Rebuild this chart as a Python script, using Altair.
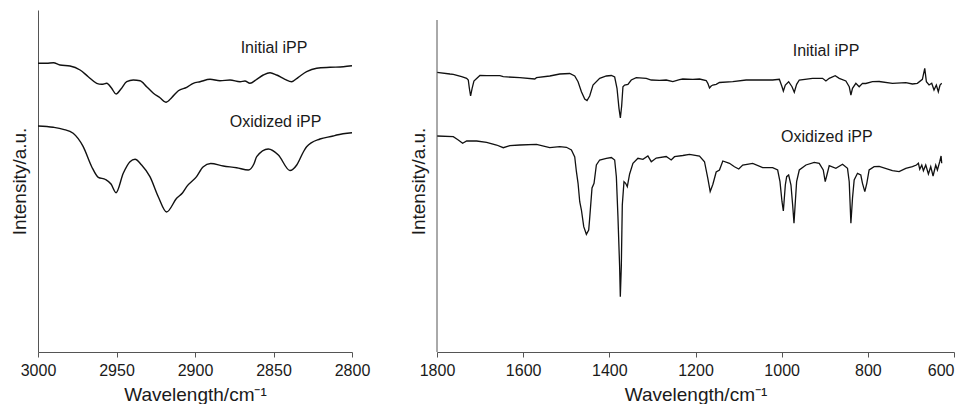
import altair as alt
import pandas as pd

# ---------------- data ----------------
# Left panel: 3000-2800 cm-1
left_init_wn = [3000, 2994.5, 2990.2, 2986, 2979.6, 2973.2, 2968, 2962.6, 2959.4, 2956.2, 2953.1,
                2950.3, 2947.3, 2943.5, 2939.3, 2935, 2930.8, 2926.5, 2922.3, 2918.5, 2914.9,
                2910.6, 2905.3, 2901.1, 2896.8, 2890.4, 2884.1, 2877.7, 2871.3, 2868.2, 2865,
                2860.7, 2856.5, 2852.2, 2848, 2842.7, 2838.4, 2834.2, 2828.9, 2822.5, 2814,
                2805.5, 2800]
left_init_int = [288.7, 288.7, 289.3, 287, 286, 282, 275.3, 268.7, 267.7, 268.7, 263.7,
                 258, 262.7, 270.3, 272, 271.3, 265.3, 258.7, 254.3, 249.7, 254.3,
                 261.3, 264.7, 268.7, 270.3, 272.7, 271.3, 272, 270.3, 271, 268.7,
                 272.7, 277, 279.3, 277, 272.7, 270.3, 274.7, 280.3, 283.7, 284.7,
                 285.3, 286.3]

left_ox_wn = [3000, 2990.3, 2983.9, 2977.6, 2971.2, 2965.8, 2961.6, 2957, 2953.5, 2950.3,
              2945.7, 2941.4, 2938.2, 2934, 2928.7, 2923.4, 2918.1, 2911.7, 2908, 2905.3,
              2899, 2894.9, 2890, 2882, 2873.5, 2866, 2862.5, 2860.7, 2853.3, 2846.9,
              2839.5, 2835.2, 2831, 2828.9, 2820.4, 2812, 2809.8, 2800]
left_ox_int = [226, 224.7, 222.7, 218.7, 205.3, 185.3, 174.7, 172.5, 168, 159.3,
               178.7, 190.3, 192.7, 187, 175.3, 155.3, 140, 153.7, 159, 165.3,
               175.3, 185, 188.5, 186, 184.3, 182, 188, 195.3, 203, 197,
               181.5, 187, 200, 205.3, 213, 216, 217, 219.3]

# Right panel: 1800-600 cm-1
right_init_wn = [1800, 1769.9, 1762.2, 1742.8, 1731.2, 1727.4, 1725, 1722, 1718.5, 1714.3, 1708,
                 1700.4, 1684.9, 1654, 1646.2, 1607.7, 1573, 1569.1, 1538.2, 1515, 1491.9,
                 1480.3, 1472.6, 1464.8, 1457.1, 1451.8, 1445.6, 1437.9, 1422.4, 1406.9, 1395.3,
                 1387.6, 1382.2, 1377.6, 1374.4, 1371.4, 1368.4, 1364.5, 1356.8, 1349.1, 1337.5,
                 1314.3, 1302.7, 1283.4, 1268, 1252.6, 1237.1, 1229.4, 1206.2, 1190.7, 1175.2,
                 1171.4, 1167.5, 1163.6, 1159.8, 1152, 1144.4, 1113.5, 1082.5, 1051.7, 1020.9,
                 1005.4, 999.2, 996.1, 991.5, 983.8, 976, 970.7, 965.3, 959.1, 928.3,
                 905.1, 897.3, 889.6, 875.7, 866.4, 851, 843.2, 839.3, 835.6, 827.8,
                 820.1, 812.4, 804.7, 789.2, 773.7, 742.9, 711.9, 696.5, 685, 673.4,
                 667.9, 664.1, 657.9, 651.7, 646.4, 641, 636.4, 632.4, 628.5]
right_init_int = [279.7, 278, 277.7, 275.3, 273.7, 272, 264, 256, 263.7, 271, 273.5,
                  276.5, 276.3, 276.3, 275.3, 274.3, 273, 274.3, 276, 278, 278.5,
                  276, 270.3, 260.3, 253, 251.5, 256, 267, 273.7, 276, 276.5,
                  275, 263.7, 243.7, 234, 246, 265.3, 267, 267.5, 272, 274.3,
                  273.7, 272, 271.7, 272, 270.3, 272.3, 273, 272.7, 273, 271.5,
                  268.7, 264, 266, 267, 267.7, 269.5, 270.3, 272, 272, 272,
                  272.7, 265.3, 261, 267, 270.3, 265.3, 259.7, 267.7, 272, 273.7,
                  273.7, 271, 273.7, 276.3, 273.7, 271, 265.3, 257, 263.7, 268.7,
                  265.3, 268.7, 268.5, 270.3, 270.5, 268.7, 269.3, 268, 268.7, 272.7,
                  283.7, 270.3, 267, 268.7, 262, 267, 260.3, 267, 268.7]

right_ox_wn = [1800, 1762.2, 1750.6, 1740.5, 1731.2, 1708, 1684.9, 1661.7, 1646.2, 1630.9,
               1607.7, 1569.1, 1538.2, 1515, 1499.6, 1488, 1480.3, 1476.4, 1472.6, 1468.7,
               1464.8, 1459.4, 1453.3, 1447.9, 1445.6, 1440.2, 1435.5, 1430.1, 1422.4, 1406.9,
               1395.3, 1387.6, 1383.7, 1380, 1376.1, 1374.5, 1372.2, 1369.9, 1366, 1362.2,
               1358.3, 1352.9, 1345.2, 1333.6, 1322, 1310.5, 1302.7, 1291.1, 1268, 1256.4,
               1248.7, 1229.4, 1213.9, 1190.7, 1179.1, 1171.4, 1165.9, 1159.8, 1152, 1144.4,
               1136.6, 1121.2, 1109.6, 1099.6, 1090.4, 1067.2, 1044.1, 1020.9, 1009.3, 1003.9,
               999.2, 996.1, 991.5, 988.4, 983.8, 978.4, 974.5, 971.4, 968.3, 965.3,
               959.1, 943.6, 924.3, 912.8, 903.5, 898.9, 895, 889.6, 874.2, 858.7,
               847.2, 843.2, 839.3, 835.6, 831.7, 824, 816.3, 812.4, 807, 802.4,
               797, 785.4, 773.7, 742.9, 727.4, 711.9, 696.5, 687.2, 682.6, 679.5,
               674.8, 671, 665.6, 659.4, 654, 648.6, 642.4, 638.5, 633.1, 630, 628.5]
right_ox_int = [216, 215.3, 212, 208.7, 211, 211, 209.7, 207, 204.3, 206.3,
                207, 207.7, 204.3, 205.3, 204.7, 202, 195, 180.3, 168.7, 150.3,
                142, 125.3, 117.7, 122, 133.7, 164, 168.7, 187, 192, 193.7,
                194.5, 192, 175.3, 135.3, 85.3, 55.3, 85.3, 147, 170.3, 168.7,
                165.3, 178, 188.7, 193.7, 192.7, 196, 190.3, 194, 195.5, 192,
                195.3, 196.5, 197.7, 196, 190.3, 173.7, 160.5, 167.5, 180, 182,
                191, 188.7, 185.3, 183, 187, 188.7, 184.3, 184.3, 182, 170.3,
                150.3, 141, 167, 175.3, 177, 167, 147, 128.7, 150.3, 170.3,
                182, 187, 189.7, 188.7, 182, 170.3, 177, 186.3, 183.7, 187.7,
                183.7, 170.3, 128.7, 153.7, 172, 178.7, 177, 168.7, 160.3, 168.7,
                182, 185.3, 185.5, 181.3, 180.3, 183.7, 185.3, 187, 188.7, 182.7,
                187, 181.3, 187, 178, 185.3, 176, 187, 182, 190.3, 196, 188.7]

# Curve labels
left_labels = ["Initial iPP", "Oxidized iPP"]
left_label_wn = [2849.7, 2848.7]
left_label_int = [304, 230]
right_labels = ["Initial iPP", "Oxidized iPP"]
right_label_wn = [897, 895]
right_label_int = [301, 215]

left_ticks = [3000, 2975, 2950, 2925, 2900, 2875, 2850, 2825, 2800]
right_ticks = [1800, 1600, 1400, 1200, 1000, 800, 600]

y_top = 342          # intensity range shown (a.u.)
right_axis_top = 332  # right panel's y-axis line is shorter

FONT = "Liberation Sans"
AXIS_COLOR = "#555555"
TEXT_COLOR = "#1a1a1a"

# ---------------- frames ----------------
df_left = pd.concat([
    pd.DataFrame({"wn": left_init_wn, "int": left_init_int, "s": "Initial iPP"}),
    pd.DataFrame({"wn": left_ox_wn, "int": left_ox_int, "s": "Oxidized iPP"}),
])
df_right = pd.concat([
    pd.DataFrame({"wn": right_init_wn, "int": right_init_int, "s": "Initial iPP"}),
    pd.DataFrame({"wn": right_ox_wn, "int": right_ox_int, "s": "Oxidized iPP"}),
])
df_lab_left = pd.DataFrame({"wn": left_label_wn, "int": left_label_int, "t": left_labels})
df_lab_right = pd.DataFrame({"wn": right_label_wn, "int": right_label_int, "t": right_labels})
df_rule = pd.DataFrame({"wn": [max(right_ticks)], "y0": [0], "y1": [right_axis_top]})

X_TITLE = "Wavelength/cm⁻¹"
Y_TITLE = "Intensity/a.u."


def x_axis(values, minor_step=None, end_value=None):
    expr = "datum.label"
    if minor_step:
        expr = f"datum.value % {minor_step} === 0 ? datum.label : ''"
    align = "center"
    if end_value is not None:
        # keep the last label inside the page
        align = {"condition": {"test": f"datum.value === {end_value}", "value": "right"},
                 "value": "center"}
    return alt.Axis(values=values, format="d", labelExpr=expr, title=X_TITLE,
                    grid=False, labelFlush=False, labelOverlap=False, labelAlign=align,
                    tickSize=5, tickColor=AXIS_COLOR, domainColor=AXIS_COLOR,
                    labelFont=FONT, labelFontSize=16, labelColor=TEXT_COLOR,
                    titleFont=FONT, titleFontSize=19, titleFontWeight="normal",
                    titleColor=TEXT_COLOR, labelPadding=5, titlePadding=7)


def y_axis(show_domain=True):
    return alt.Axis(title=Y_TITLE, labels=False, ticks=False, grid=False,
                    domain=show_domain, domainColor=AXIS_COLOR,
                    titleFont=FONT, titleFontSize=19, titleFontWeight="normal",
                    titleColor=TEXT_COLOR, titlePadding=9)


y_scale = alt.Scale(domain=[0, y_top], nice=False, zero=True)

# ---------------- left panel ----------------
xl = alt.Scale(domain=[2800, 3000], reverse=True, nice=False, zero=False)
left_lines = alt.Chart(df_left).mark_line(color="#111", strokeWidth=1.4, interpolate="monotone").encode(
    x=alt.X("wn:Q", scale=xl, axis=x_axis(left_ticks, 50)),
    y=alt.Y("int:Q", scale=y_scale, axis=y_axis(True)),
    detail="s:N",
)
left_text = alt.Chart(df_lab_left).mark_text(font=FONT, fontSize=16, color=TEXT_COLOR).encode(
    x=alt.X("wn:Q", scale=xl), y=alt.Y("int:Q", scale=y_scale), text="t:N")
left = alt.layer(left_lines, left_text).properties(width=314, height=342)

# ---------------- right panel ----------------
xr = alt.Scale(domain=[600, 1800], reverse=True, nice=False, zero=False)
right_lines = alt.Chart(df_right).mark_line(color="#111", strokeWidth=1.3).encode(
    x=alt.X("wn:Q", scale=xr, axis=x_axis(right_ticks, end_value=min(right_ticks))),
    y=alt.Y("int:Q", scale=y_scale, axis=y_axis(False)),
    detail="s:N",
)
right_rule = alt.Chart(df_rule).mark_rule(color=AXIS_COLOR, strokeWidth=1).encode(
    x=alt.X("wn:Q", scale=xr), y=alt.Y("y0:Q", scale=y_scale), y2="y1:Q")
right_text = alt.Chart(df_lab_right).mark_text(font=FONT, fontSize=16, color=TEXT_COLOR).encode(
    x=alt.X("wn:Q", scale=xr), y=alt.Y("int:Q", scale=y_scale), text="t:N")
right = alt.layer(right_lines, right_rule, right_text).properties(width=517, height=342)

chart = alt.hconcat(left, right, spacing=39).properties(
    padding={"left": 2, "top": 2, "right": 0, "bottom": 0}
).configure_view(stroke=None)

chart.save("out.html", embed_options={"renderer": "svg", "actions": False})
